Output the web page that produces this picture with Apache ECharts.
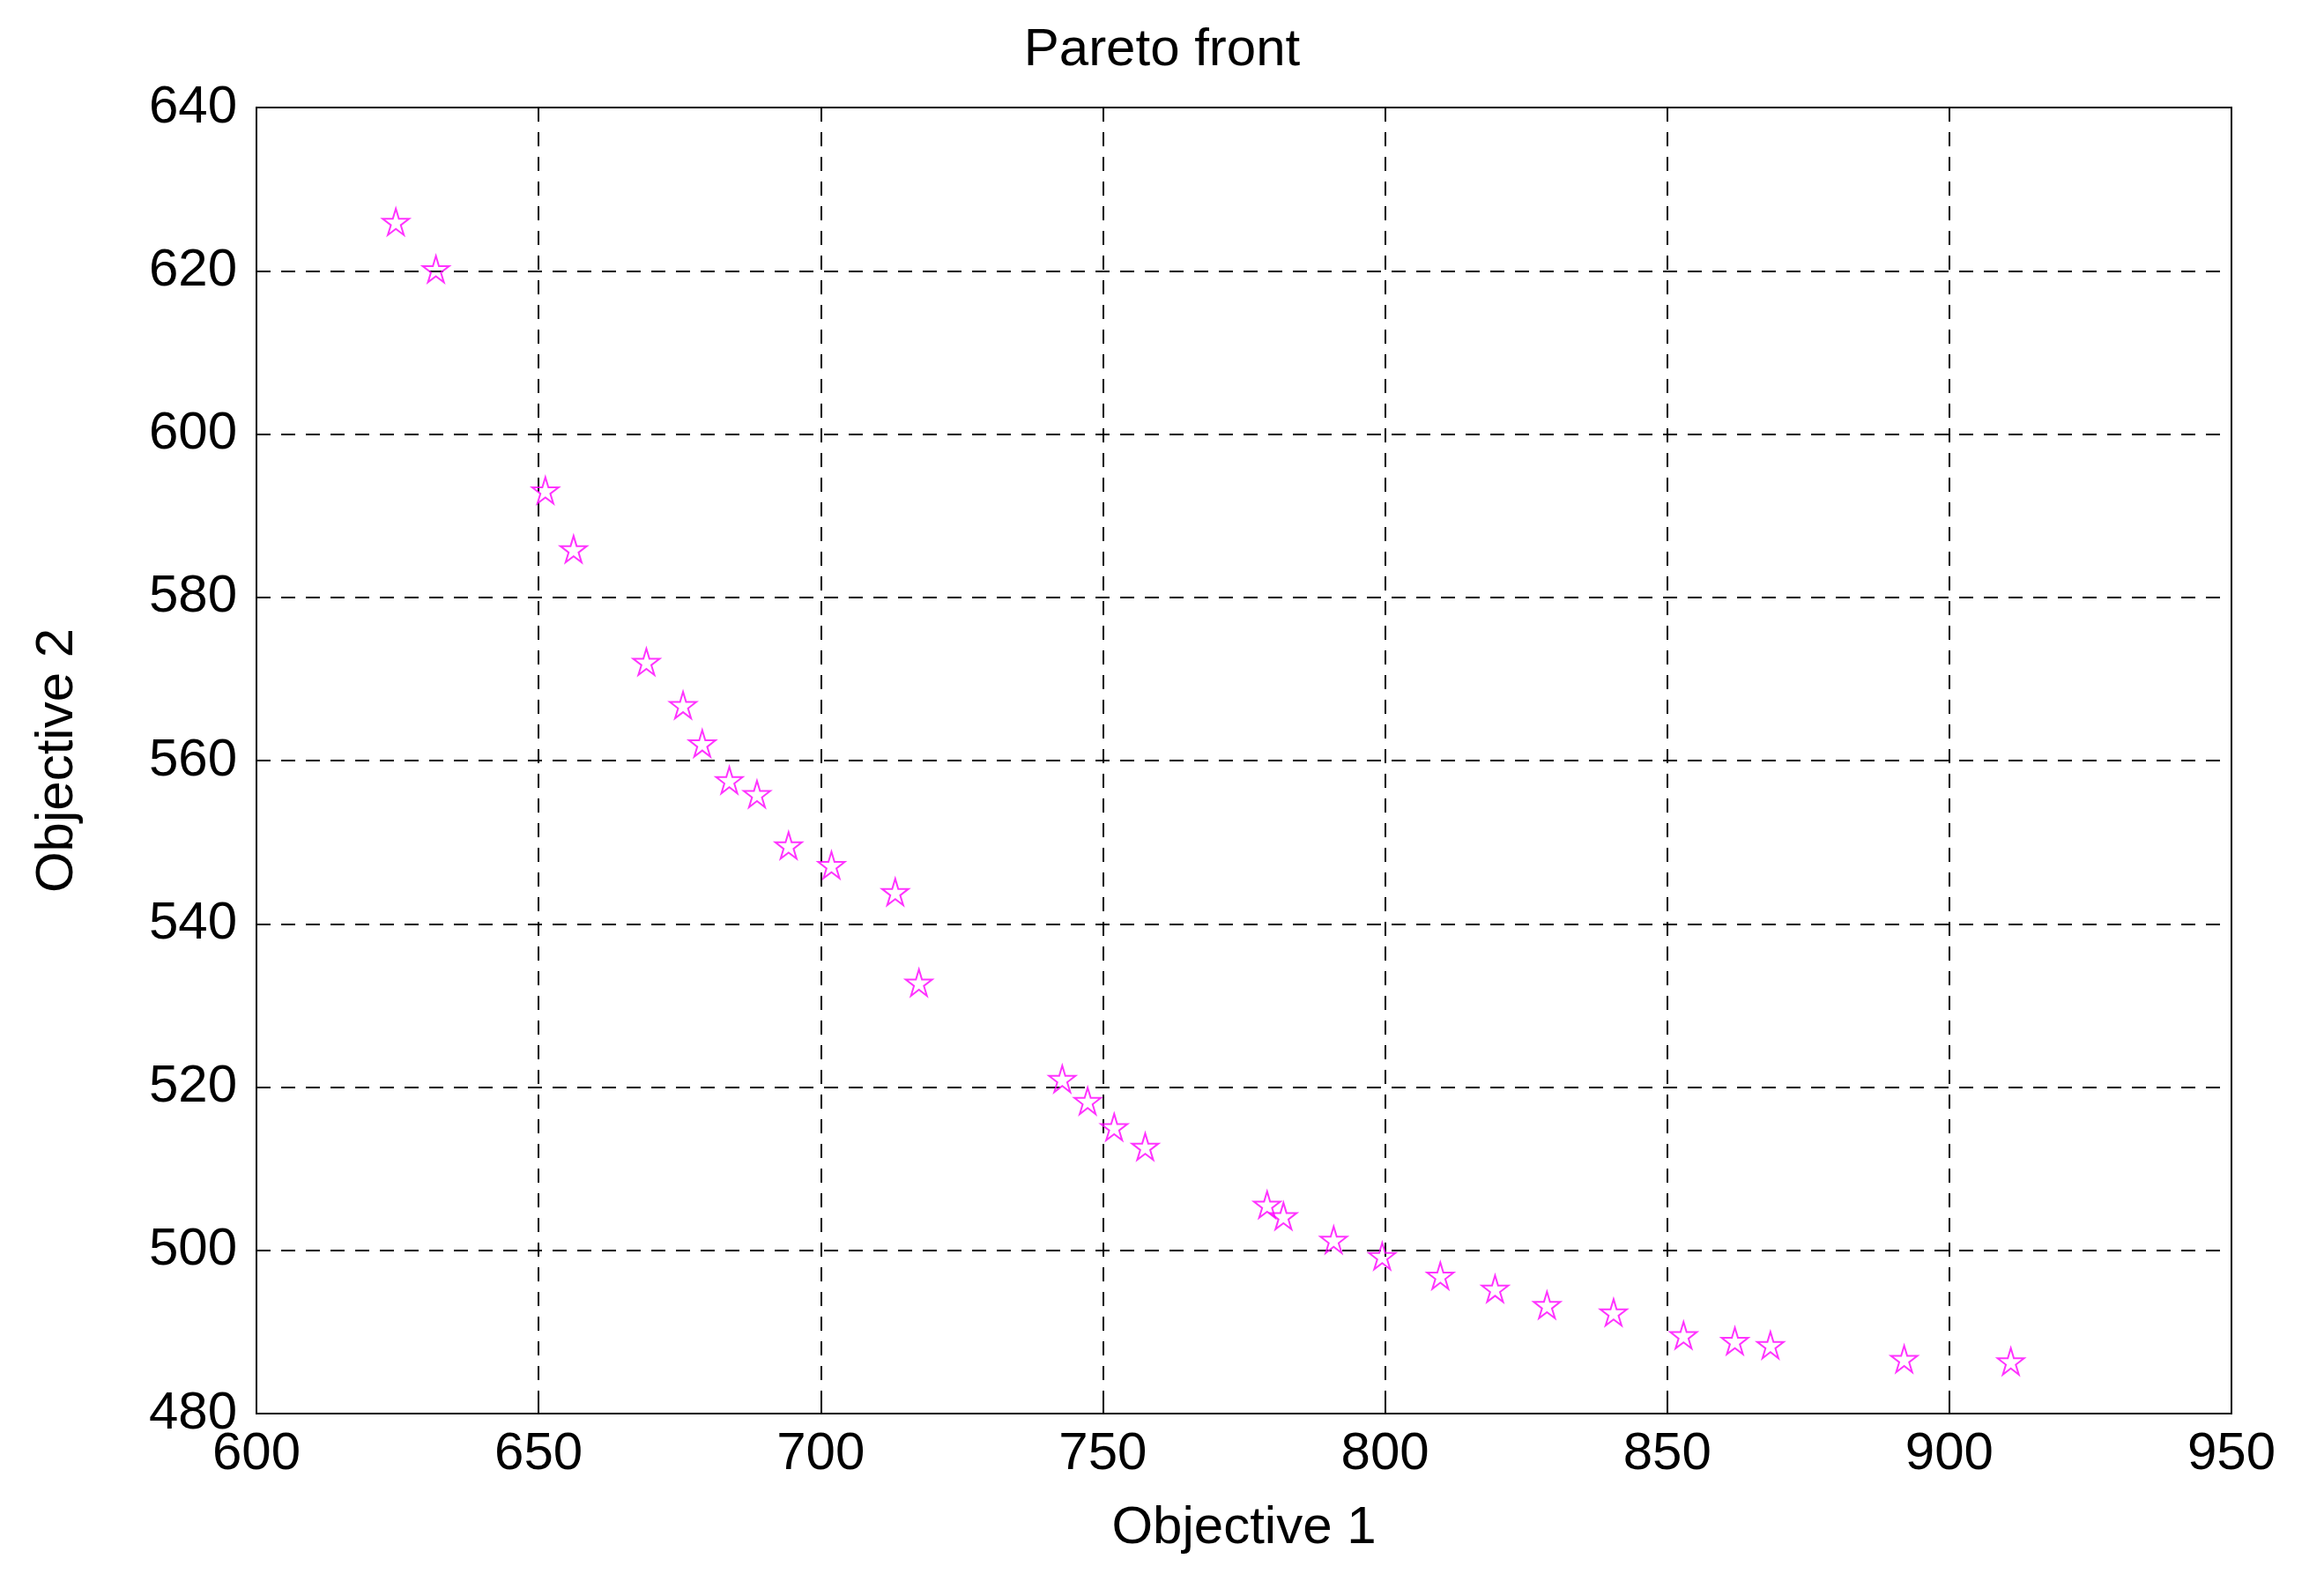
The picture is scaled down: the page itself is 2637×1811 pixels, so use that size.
<!DOCTYPE html>
<html>
<head>
<meta charset="utf-8">
<script src="https://cdn.jsdelivr.net/npm/echarts@6/dist/echarts.min.js"></script>
<style>
  html, body { margin: 0; padding: 0; background: #fff; }
  #chart { width: 2637px; height: 1811px; }
</style>
</head>
<body>
<div id="chart"></div>
<script>
// objective values
const objective1 = [624.7, 631.8, 651.2, 656.2, 669.1, 675.6, 679.0, 683.8, 688.7, 694.3,
  701.9, 713.2, 717.4, 742.8, 747.3, 752.0, 757.5, 779.1, 782.0, 790.9,
  799.5, 809.8, 819.5, 828.7, 840.5, 852.9, 862.0, 868.3, 892.0, 910.9];
const objective2 = [626.0, 620.2, 593.1, 585.9, 572.1, 566.8, 562.1, 557.6, 555.9, 549.6,
  547.2, 543.9, 532.8, 521.0, 518.3, 515.1, 512.7, 505.6, 504.2, 501.3,
  499.3, 496.9, 495.3, 493.3, 492.4, 489.6, 488.9, 488.4, 486.7, 486.4];

const points = objective1.map((x, i) => [x, objective2[i]]);

const font = 'Liberation Sans, Arial, sans-serif';
const star = 'path://M50,0 L61,35 L98,35 L68,57 L79,91 L50,70 L21,91 L32,57 L2,35 L39,35 Z';

const gridLine = { show: true, lineStyle: { color: '#000', width: 2, type: [16, 12] } };

const chart = echarts.init(document.getElementById('chart'));
chart.setOption({
  backgroundColor: '#fff',
  animation: false,
  title: {
    text: 'Pareto front', left: 'center', top: 22,
    textStyle: { fontFamily: font, fontSize: 60, fontWeight: 'normal', color: '#000' }
  },
  grid: {
    left: 291, right: 93 + 12, top: 122, bottom: 200 + 7,
    show: true, borderColor: '#000', borderWidth: 2
  },
  xAxis: {
    type: 'value', min: 600, max: 950, interval: 50,
    name: 'Objective 1', nameLocation: 'middle', nameGap: 100,
    nameTextStyle: { fontFamily: font, fontSize: 60, color: '#000' },
    axisLine: { show: true, lineStyle: { color: '#000', width: 2 } },
    axisTick: { show: true, inside: true, length: 12, lineStyle: { color: '#000', width: 2 } },
    axisLabel: { fontFamily: font, fontSize: 60, color: '#000', margin: 16 },
    splitLine: gridLine
  },
  yAxis: {
    type: 'value', min: 480, max: 640, interval: 20,
    name: 'Objective 2', nameLocation: 'middle', nameGap: 196,
    nameTextStyle: { fontFamily: font, fontSize: 60, color: '#000' },
    axisLine: { show: true, lineStyle: { color: '#000', width: 2 } },
    axisTick: { show: true, inside: true, length: 12, lineStyle: { color: '#000', width: 2 } },
    axisLabel: { fontFamily: font, fontSize: 60, color: '#000', margin: 22 },
    splitLine: gridLine
  },
  series: [{
    type: 'scatter',
    data: points,
    symbol: star,
    symbolSize: 30,
    itemStyle: { color: 'rgba(0,0,0,0)', borderColor: '#ff00ff', borderWidth: 2 }
  }]
});
</script>
</body>
</html>
